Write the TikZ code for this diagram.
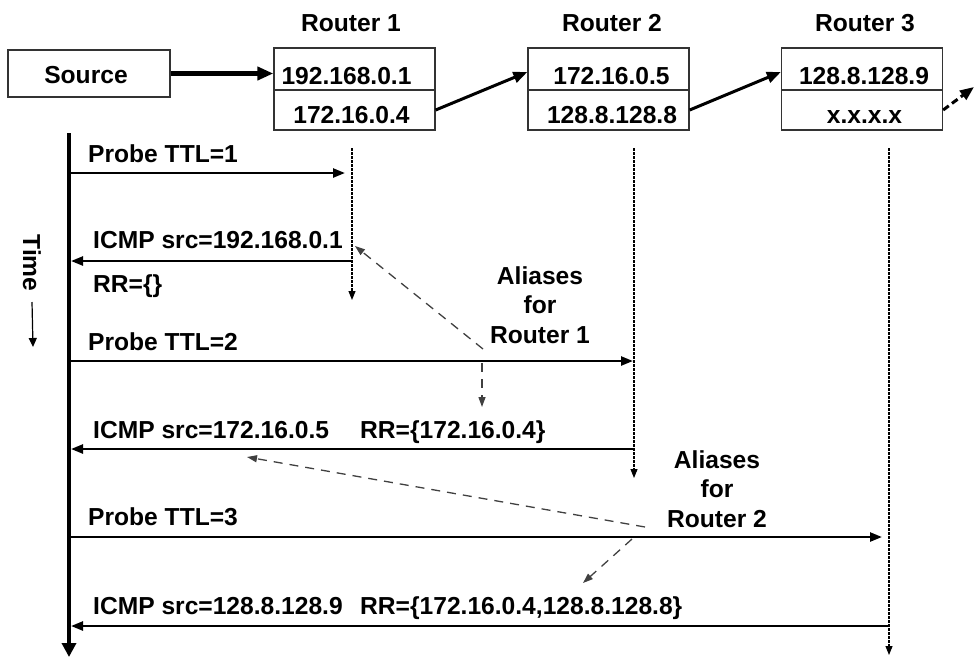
\documentclass[tikz,border=0pt]{standalone}
\usepackage{fontspec}
\setmainfont{Liberation Sans}
\usetikzlibrary{arrows.meta}
\begin{document}
\begin{tikzpicture}[x=1pt,y=-1pt,
  txt/.style={inner sep=0pt, font=\fontsize{24.6}{29.5}\selectfont\bfseries},
  rowbox/.style={draw=black!80, line width=1.3pt, minimum width=161pt, inner sep=0pt},
  msg/.style={line width=2.4pt, -{Triangle[length=12pt,width=9pt]}},
  life/.style={line width=1.1pt, dash pattern=on 2.5pt off 1.5pt, -{Triangle[length=9pt,width=7pt]}},
  alias/.style={draw=black!75, line width=1.3pt, dash pattern=on 9pt off 7pt, -{Triangle[length=10pt,width=7pt]}},
  link/.style={line width=3pt, -{Triangle[length=14pt,width=11pt]}},
]
\useasboundingbox (0,0) rectangle (976,657);

% boxes
\node[rowbox, minimum width=162pt, minimum height=47pt] (src) at (89,73.5) {};
\node[txt, anchor=base] (srct) at (86,83) {Source};

\node[rowbox, minimum height=42pt] (r1a) at (354.5,69) {};
\node[rowbox, minimum height=40pt] (r1b) at (354.5,110) {};
\node[rowbox, minimum height=42pt] (r2a) at (608.5,69) {};
\node[rowbox, minimum height=40pt] (r2b) at (608.5,110) {};
\node[rowbox, minimum height=42pt] (r3a) at (862,69) {};
\node[rowbox, minimum height=40pt] (r3b) at (862,110) {};

\node[txt, anchor=base] (r1l) at (351,31) {Router 1};
\node[txt, anchor=base] (r2l) at (612,31) {Router 2};
\node[txt, anchor=base] (r3l) at (865,31) {Router 3};

\node[txt, anchor=base] (r1at) at (346.5,84) {192.168.0.1};
\node[txt, anchor=base] (r1bt) at (351.5,123) {172.16.0.4};
\node[txt, anchor=base] (r2at) at (611.5,84) {172.16.0.5};
\node[txt, anchor=base] (r2bt) at (612,123) {128.8.128.8};
\node[txt, anchor=base] (r3at) at (864,84) {128.8.128.9};
\node[txt, anchor=base] (r3bt) at (864.5,123) {x.x.x.x};

% links between boxes
\draw[line width=4.5pt, -{Triangle[length=16pt,width=13pt]}] (src.east) -- (src.east -| r1a.west);
\draw[link] (r1b.east) -- ([yshift=-3pt]r2a.west);
\draw[link] (r2b.east) -- ([yshift=-3pt]r3a.west);
\coordinate (out) at (974,87);
\draw[link, dash pattern=on 7pt off 4pt] (r3b.east) -- (out);

% time axis
\coordinate (ttop) at (69,133);
\coordinate (tbot) at (69,657);
\draw[line width=4.5pt, -{Triangle[length=14pt,width=14pt]}] (ttop) -- (tbot);
\node[txt, rotate=-90] (time) at (32,263) {Time};
\coordinate (tarr) at (33,347);
\draw[line width=1.2pt, -{Triangle[length=9pt,width=8pt]}] (32,302) -- (tarr);

% lifelines
\coordinate (l1t) at (352,148); \coordinate (l1b) at (352,300);
\coordinate (l2t) at (634,148); \coordinate (l2b) at (634,478);
\coordinate (l3t) at (889,148); \coordinate (l3b) at (889,655);
\draw[life] (l1t) -- (l1b);
\draw[life] (l2t) -- (l2b);
\draw[life] (l3t) -- (l3b);

% messages
\coordinate (m1a) at (69,173);  \coordinate (m1b) at (345,173);
\coordinate (m2a) at (352,261); \coordinate (m2b) at (71,261);
\coordinate (m3a) at (69,361);  \coordinate (m3b) at (633,361);
\coordinate (m4a) at (634,449); \coordinate (m4b) at (71,449);
\coordinate (m5a) at (69,537);  \coordinate (m5b) at (882,537);
\coordinate (m6a) at (889,626); \coordinate (m6b) at (71,626);
\draw[msg] (m1a) -- (m1b);
\draw[msg] (m2a) -- (m2b);
\draw[msg] (m3a) -- (m3b);
\draw[msg] (m4a) -- (m4b);
\draw[msg] (m5a) -- (m5b);
\draw[msg] (m6a) -- (m6b);

\node[txt, anchor=base west] (t1) at (88,162) {Probe TTL=1};
\node[txt, anchor=base west] (t2) at (93,248) {ICMP src=192.168.0.1};
\node[txt, anchor=base west] (t2b) at (93,292) {RR=\{\}};
\node[txt, anchor=base west] (t3) at (88,350) {Probe TTL=2};
\node[txt, anchor=base west] (t4) at (93,438) {ICMP src=172.16.0.5};
\node[txt, anchor=base west] (t4b) at (360,438) {RR=\{172.16.0.4\}};
\node[txt, anchor=base west] (t5) at (88,525) {Probe TTL=3};
\node[txt, anchor=base west] (t6) at (93,614) {ICMP src=128.8.128.9};
\node[txt, anchor=base west] (t6b) at (360,614) {RR=\{172.16.0.4,128.8.128.8\}};

% aliases
\node[txt, align=center, anchor=north] (al1) at (540,266) {Aliases\\for\\Router 1};
\node[txt, align=center, anchor=north] (al2) at (717,450) {Aliases\\for\\Router 2};

\coordinate (a1s) at (483,349); \coordinate (a1e) at (355,246);
\coordinate (a1d) at (482,363); \coordinate (a1f) at (482,407);
\coordinate (a2s) at (645,527); \coordinate (a2e) at (247,457);
\coordinate (a2d) at (632,539); \coordinate (a2f) at (583,583);
\draw[alias] (a1s) -- (a1e);
\draw[alias] (a1d) -- (a1f);
\draw[alias] (a2s) -- (a2e);
\draw[alias] (a2d) -- (a2f);
\end{tikzpicture}
\end{document}
